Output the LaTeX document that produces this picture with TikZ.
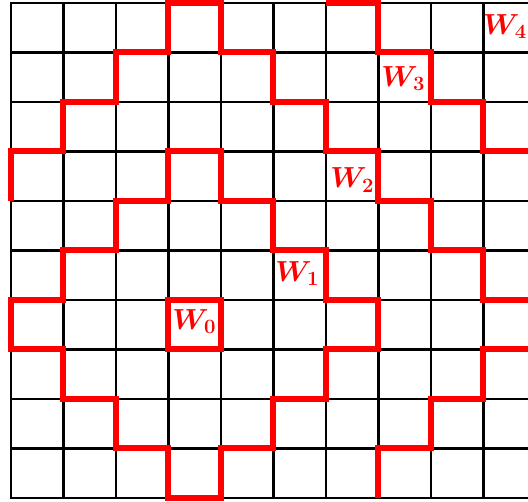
\RequirePackage{fix-cm}
\documentclass[tikz,border=0pt]{standalone}
\usepackage{tikz}
\definecolor{wred}{HTML}{FF0000}
\tikzset{
  gridline/.style={black, line width=2.2pt},
  borderline/.style={black, line width=2.8pt, line join=miter},
  wpath/.style={wred, line width=6pt, line join=miter, line cap=butt},
  wlabel/.style={text=wred, font=\fontsize{29}{32}\selectfont\boldmath,
    inner sep=0pt},
}

\begin{document}
\begin{tikzpicture}[x=52.5pt, y=49.5pt]

  % Frame of the picture
  \clip (-0.2095,-0.0808) rectangle (9.848,10.0606);
  \fill[white] (-0.2095,-0.0808) rectangle (9.848,10.0606);

  % Grid
  \foreach \c in {1,...,9} \draw[gridline] (\c,0) -- (\c,10);
  \foreach \r in {1,...,9} \draw[gridline] (0,\r) -- (10,\r);
  \draw[borderline] (10,10) -- (0,10) -- (0,0) -- (10,0);

  % W_0
  \draw[wpath] (3,3) rectangle (4,4);

  % W_1
  \draw[wpath] (0,3) -- (0,4) -- (1,4) -- (1,5) -- (2,5) -- (2,6) -- (3,6)
    -- (3,7) -- (4,7) -- (4,6) -- (5,6) -- (5,5) -- (6,5) -- (6,4) -- (7,4)
    -- (7,3) -- (6,3) -- (6,2) -- (5,2) -- (5,1) -- (4,1) -- (4,0) -- (3,0)
    -- (3,1) -- (2,1) -- (2,2) -- (1,2) -- (1,3) -- cycle;

  % W_2
  \draw[wpath] (0,6) -- (0,7) -- (1,7) -- (1,8) -- (2,8) -- (2,9) -- (3,9)
    -- (3,10) -- (4,10) -- (4,9) -- (5,9) -- (5,8) -- (6,8) -- (6,7) -- (7,7)
    -- (7,6) -- (8,6) -- (8,5) -- (9,5) -- (9,4) -- (10,4);
  \draw[wpath] (10,3) -- (9,3) -- (9,2) -- (8,2) -- (8,1) -- (7,1) -- (7,0);

  % W_3
  \draw[wpath] (6,10) -- (7,10) -- (7,9) -- (8,9) -- (8,8) -- (9,8) -- (9,7)
    -- (10,7);

  % Labels
  \node[wlabel] (w0) at (3.49,3.56) {$W_0$};
  \node[wlabel] (w1) at (5.45,4.53) {$W_1$};
  \node[wlabel] (w2) at (6.50,6.42) {$W_2$};
  \node[wlabel] (w3) at (7.47,8.48) {$W_3$};
  \node[wlabel] (w4) at (9.41,9.52) {$W_4$};

\end{tikzpicture}
\end{document}
